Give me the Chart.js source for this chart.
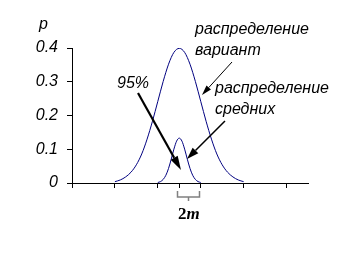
<!DOCTYPE html>
<html>
<head>
<meta charset="utf-8">
<script src="https://cdn.jsdelivr.net/npm/chart.js@4"></script>
<style>
  body { margin: 0; background: #fff; }
</style>
</head>
<body>
<canvas id="chartId" width="353" height="254"></canvas>
<script>
// distribution of variants (x in sigma units)
const broadX = [-3, -2.75, -2.5, -2.25, -2, -1.75, -1.5, -1.25, -1, -0.75, -0.5, -0.25, 0,
                0.25, 0.5, 0.75, 1, 1.25, 1.5, 1.75, 2, 2.25, 2.5, 2.75, 3];
const broadP = [0.004, 0.009, 0.018, 0.032, 0.054, 0.086, 0.130, 0.183, 0.242, 0.301, 0.352, 0.387, 0.399,
                0.387, 0.352, 0.301, 0.242, 0.183, 0.130, 0.086, 0.054, 0.032, 0.018, 0.009, 0.004];
// distribution of means
const narrowX = [-1, -0.875, -0.75, -0.625, -0.5, -0.375, -0.25, -0.125, 0,
                 0.125, 0.25, 0.375, 0.5, 0.625, 0.75, 0.875, 1];
const narrowP = [0.0015, 0.0042, 0.0106, 0.0229, 0.0432, 0.0706, 0.1004, 0.124, 0.133,
                 0.124, 0.1004, 0.0706, 0.0432, 0.0229, 0.0106, 0.0042, 0.0015];
const xTicks = [-5, -3, -1, 0, 1, 3, 5];
const yTicks = [0, 0.1, 0.2, 0.3, 0.4];
const yLabels = ['0', '0.1', '0.2', '0.3', '0.4'];

const labelFont = 'italic 16px "Liberation Sans", Arial, sans-serif';

function arrow(ctx, x1, y1, x2, y2, lw, hl, hw) {
    var a = Math.atan2(y2 - y1, x2 - x1);
    var bx = x2 - hl * Math.cos(a), by = y2 - hl * Math.sin(a);
    ctx.lineWidth = lw;
    ctx.beginPath();
    ctx.moveTo(x1, y1);
    ctx.lineTo(bx, by);
    ctx.stroke();
    ctx.beginPath();
    ctx.moveTo(x2, y2);
    ctx.lineTo(bx + hw * Math.sin(a), by - hw * Math.cos(a));
    ctx.lineTo(bx - hw * Math.sin(a), by + hw * Math.cos(a));
    ctx.closePath();
    ctx.fill();
}

const notes = {
    id: 'notes',
    afterDraw(chart) {
        const ctx = chart.ctx;
        ctx.save();
        ctx.fillStyle = '#000';
        ctx.strokeStyle = '#000';
        ctx.font = labelFont;
        ctx.textAlign = 'left';
        ctx.textBaseline = 'alphabetic';
        ctx.fillText('p', 39, 29);
        ctx.fillText('распределение', 195, 34);
        ctx.fillText('вариант', 195, 55);
        ctx.fillText('распределение', 215, 93);
        ctx.fillText('средних', 215, 114);
        ctx.fillText('95%', 117, 88);

        arrow(ctx, 232, 62, 202, 95, 1, 10, 3);
        arrow(ctx, 225, 121, 187, 159, 1.5, 12, 4);
        arrow(ctx, 138, 93, 181, 170, 2.2, 14, 4);

        // bracket 2m
        ctx.strokeStyle = '#808080';
        ctx.lineWidth = 1.5;
        ctx.beginPath();
        ctx.moveTo(177.5, 191);
        ctx.lineTo(177.5, 197);
        ctx.lineTo(199.5, 197);
        ctx.lineTo(199.5, 191);
        ctx.moveTo(188.5, 197);
        ctx.lineTo(188.5, 201);
        ctx.stroke();

        ctx.fillStyle = '#000';
        ctx.font = 'bold 17px "Liberation Serif", "Times New Roman", serif';
        ctx.fillText('2', 178, 219);
        var w = ctx.measureText('2').width;
        ctx.font = 'italic bold 17px "Liberation Serif", "Times New Roman", serif';
        ctx.fillText('m', 178 + w, 219);
        ctx.restore();
    }
};

new Chart(document.getElementById('chartId'), {
    type: 'line',
    data: {
        datasets: [{
            data: broadX.map((x, i) => ({ x: x, y: broadP[i] })),
            borderColor: '#000080',
            borderWidth: 1,
            pointRadius: 0,
            fill: false,
            cubicInterpolationMode: 'monotone'
        }, {
            data: narrowX.map((x, i) => ({ x: x, y: narrowP[i] })),
            borderColor: '#000080',
            borderWidth: 1,
            pointRadius: 0,
            fill: false,
            cubicInterpolationMode: 'monotone'
        }]
    },
    options: {
        responsive: false,
        animation: false,
        events: [],
        layout: { padding: { left: 0, top: 48, right: 45, bottom: 66 } },
        plugins: { legend: { display: false }, tooltip: { enabled: false } },
        scales: {
            x: {
                type: 'linear', min: -5, max: 6,
                afterBuildTicks: s => { s.ticks = xTicks.map(v => ({ value: v })); },
                afterFit: s => { s.height = 5; },
                ticks: { display: false },
                grid: { drawOnChartArea: false, tickLength: 5, tickColor: '#000' },
                border: { color: '#000' }
            },
            y: {
                type: 'linear', min: 0, max: 0.4,
                afterBuildTicks: s => { s.ticks = yTicks.map(v => ({ value: v })); },
                afterFit: s => { s.width = 72; },
                ticks: {
                    color: '#000', padding: 9,
                    font: { family: '"Liberation Sans", Arial, sans-serif', size: 16, style: 'italic' },
                    callback: (v, i) => yLabels[i]
                },
                grid: { drawOnChartArea: false, tickLength: 5, tickColor: '#000' },
                border: { color: '#000' }
            }
        }
    },
    plugins: [notes]
});
</script>
</body>
</html>
